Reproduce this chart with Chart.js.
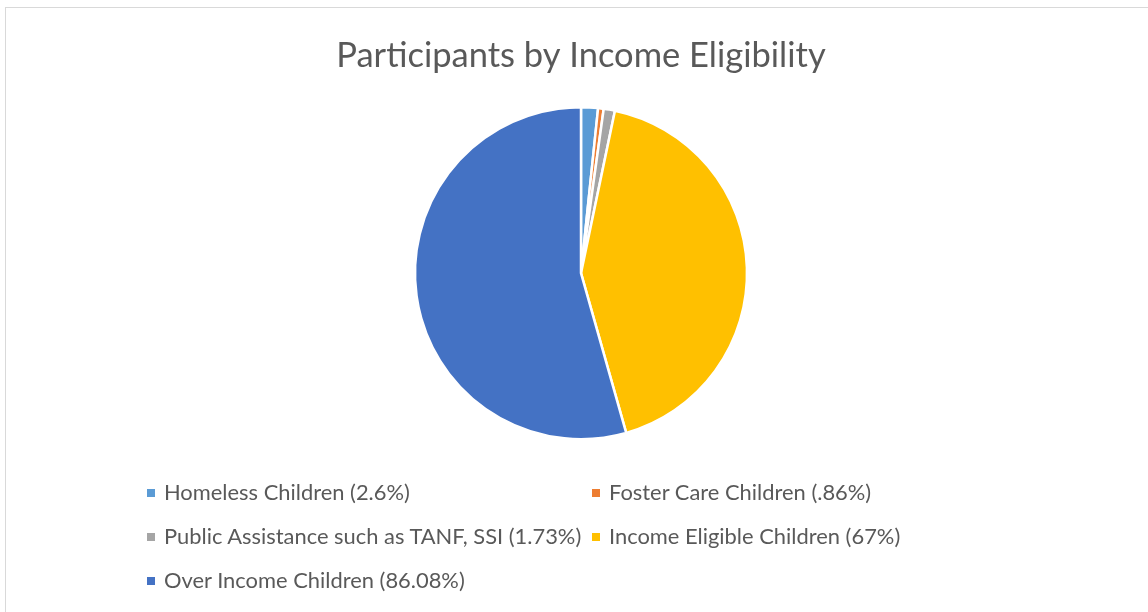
<!DOCTYPE html>
<html>
<head>
<meta charset="utf-8">
<script src="https://cdn.jsdelivr.net/npm/chart.js@4.4.1/dist/chart.umd.min.js"></script>
<style>
  html, body { margin: 0; padding: 0; background: #fff; overflow: hidden; }
  #wrap { position: relative; width: 1148px; height: 612px; }
  #frame {
    position: absolute; left: 5px; top: 7px; width: 1200px; height: 700px;
    border-left: 1px solid #d9d9d9; border-top: 1px solid #d9d9d9;
  }
  #myChart { position: absolute; left: 0; top: 0; }
  #legend { position: absolute; left: 0; top: 0; font-family: Lato, sans-serif; font-size: 21.9px; color: #595959; }
  .item { position: absolute; white-space: nowrap; line-height: 26px; }
  .box { position: absolute; width: 8px; height: 8px; }
</style>
</head>
<body>
<div id="wrap">
  <div id="frame"></div>
  <canvas id="myChart" width="1148" height="612"></canvas>
  <div id="legend"></div>
</div>
<script>
// chart data
const labels = [
  "Homeless Children (2.6%)",
  "Foster Care Children (.86%)",
  "Public Assistance such as TANF, SSI (1.73%)",
  "Income Eligible Children (67%)",
  "Over Income Children (86.08%)"
];
const values = [2.6, 0.86, 1.73, 67, 86.08];
const sliceColors = ["#5B9BD5", "#ED7D31", "#A5A5A5", "#FFC000", "#4472C4"];

// build the legend as a two column grid under the pie
function buildLegend() {
  const legend = document.getElementById('legend');
  const colX = [147, 592];
  const rowY = [493, 537, 581];
  labels.forEach((label, i) => {
    const col = i % 2;
    const row = Math.floor(i / 2);
    const box = document.createElement('div');
    box.className = 'box';
    box.style.left = colX[col] + 'px';
    box.style.top = (rowY[row] - 4) + 'px';
    box.style.background = sliceColors[i];
    const item = document.createElement('div');
    item.className = 'item';
    item.style.left = (colX[col] + 17) + 'px';
    item.style.top = (rowY[row] - 14) + 'px';
    item.textContent = label;
    legend.appendChild(box);
    legend.appendChild(item);
  });
}

const ctx = document.getElementById('myChart').getContext('2d');
new Chart(ctx, {
  type: 'pie',
  data: {
    labels,
    datasets: [{
      data: values,
      backgroundColor: sliceColors,
      borderColor: '#ffffff',
      borderWidth: 2.5,
      radius: 166
    }]
  },
  options: {
    responsive: false,
    animation: false,
    layout: { padding: { left: 14, right: 0, top: 0, bottom: 174 } },
    plugins: {
      legend: { display: false },
      tooltip: { enabled: false },
      title: {
        display: true,
        text: 'Participants by Income Eligibility',
        color: '#595959',
        font: { family: 'Lato', size: 34.5, weight: 'normal' },
        padding: { top: 35, bottom: 32 }
      }
    }
  }
});
buildLegend();
</script>
</body>
</html>
